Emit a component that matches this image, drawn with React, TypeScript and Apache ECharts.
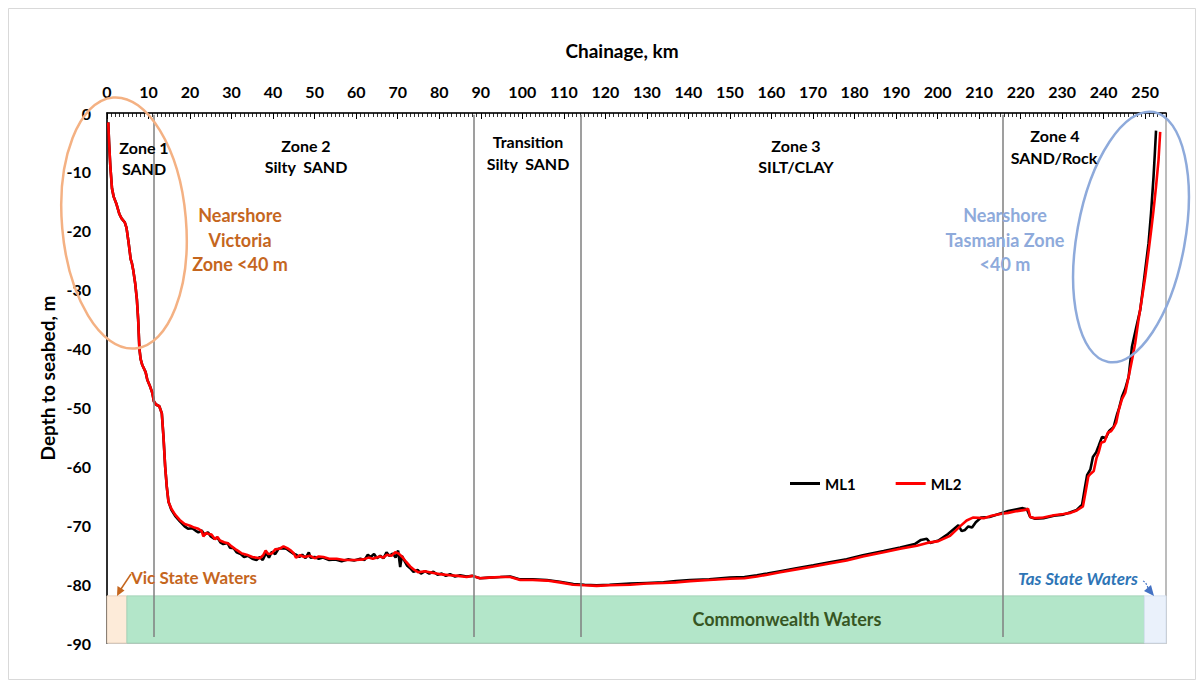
import React, { useEffect, useRef } from "react";
import * as echarts from "echarts";

// Chainage (km) vs depth to seabed (m)
const ML1: [number, number][] = [
  [0.3,-1.6],[0.5,-5],[0.8,-9],[1.2,-12.8],[1.6,-14.2],[2.3,-15.5],[3.0,-17.2],[3.5,-17.9],[4.3,-18.6],[4.7,-19.5],
  [5.2,-22],[5.7,-24.8],[6.0,-25.5],[6.3,-26.6],[6.8,-29],[7.2,-31.7],[7.5,-35],[7.8,-40],[8.1,-41.8],[8.5,-42.8],
  [9.3,-44],[9.7,-45.3],[10.3,-46.3],[10.9,-47.5],[11.3,-49],[11.8,-49.5],[12.6,-49.8],[13.2,-51],[13.6,-55],[14.0,-60],
  [14.4,-63.5],[14.8,-66],[15.5,-67.4],[16.4,-68.4],[17.5,-69.3],[18.7,-70.2],[19.5,-70.6],[20.5,-70.5],[21.3,-70.9],[22.0,-71.2],
  [22.8,-70.9],[23.5,-71.6],[24.3,-71.2],[25.0,-71.9],[25.8,-72.3],[26.6,-72.1],[27.3,-72.9],[28.0,-73.2],[29.0,-73.0],[29.6,-73.8],
  [30.5,-73.9],[31.2,-74.6],[32.2,-74.9],[33.0,-75.4],[34.0,-75.2],[35.0,-75.7],[36.0,-75.9],[36.8,-75.4],[37.5,-75.9],[38.3,-74.7],
  [39.0,-75.5],[39.7,-74.5],[40.5,-74.9],[41.3,-74.0],[42.3,-73.9],[43.2,-74.0],[44.0,-74.4],[44.8,-74.8],[45.5,-75.0],[46.3,-75.4],
  [47.0,-75.0],[47.8,-75.6],[48.6,-74.6],[49.0,-75.5],[50.0,-75.4],[51.0,-75.7],[52.0,-75.5],[53.5,-75.9],[55.0,-75.8],[56.5,-76.1],
  [58.0,-75.8],[59.5,-76.0],[61.0,-75.7],[62.0,-75.9],[62.8,-75.0],[63.5,-75.4],[64.3,-74.9],[65.0,-75.6],[65.8,-75.2],[66.6,-75.6],
  [67.3,-74.6],[68.0,-75.2],[68.8,-74.8],[69.5,-75.5],[70.1,-74.3],[70.6,-77.1],[71.0,-75.2],[71.6,-76.0],[72.3,-76.9],[73.0,-77.3],
  [73.8,-77.9],[74.8,-77.6],[75.6,-78.2],[76.6,-77.8],[77.6,-78.2],[78.6,-77.9],[79.6,-78.4],[80.6,-78.2],[81.6,-78.6],[82.6,-78.3],
  [83.8,-78.7],[85.0,-78.5],[86.6,-78.7],[88.0,-78.6],[89.8,-79.0],[92.0,-78.9],[94.7,-78.8],[97.1,-78.7],[99.5,-79.2],[102.5,-79.2],
  [105.9,-79.3],[109.0,-79.6],[112.3,-80.0],[115.0,-80.1],[117.9,-80.2],[121.0,-80.1],[126.0,-79.9],[130.0,-79.8],[134.0,-79.7],[137.0,-79.5],
  [140.4,-79.3],[145.0,-79.2],[150.0,-78.9],[153.5,-78.8],[156.5,-78.5],[159.0,-78.2],[162.1,-77.8],[166.0,-77.3],[170.1,-76.8],[174.0,-76.3],
  [178.1,-75.8],[182.0,-75.1],[187.0,-74.4],[191.0,-73.8],[194.5,-73.2],[196.0,-72.5],[197.4,-72.3],[198.2,-73.0],[200.2,-72.6],[202.5,-71.5],
  [204.0,-70.6],[205.0,-70.0],[205.8,-71.0],[206.6,-70.8],[207.4,-70.2],[208.3,-70.4],[209.2,-69.5],[210.5,-68.7],[212.5,-68.6],[215.1,-68.0],
  [217.0,-67.6],[219.1,-67.3],[220.5,-67.1],[221.5,-67.3],[222.3,-68.6],[223.5,-68.9],[225.5,-68.8],[228.0,-68.4],[230.3,-68.2],[232.0,-67.8],
  [233.5,-67.4],[234.8,-66.5],[235.5,-63.5],[236.0,-61.5],[236.8,-60.5],[237.4,-58.4],[238.2,-57.6],[238.8,-56.5],[239.6,-55.0],[240.5,-55.2],
  [241.3,-54.0],[242.4,-53.3],[243.2,-51.2],[243.6,-50.4],[244.4,-48.2],[245.2,-46.8],[246.0,-44.8],[246.8,-39.7],[247.8,-36.5],[248.8,-33.4],
  [249.6,-29.0],[250.2,-25.5],[250.8,-22.1],[251.4,-17.0],[252.0,-10.8],[252.3,-7.0],[252.6,-3.0]
];

const ML2: [number, number][] = [
  [0.3,-1.6],[0.5,-5],[0.8,-9],[1.2,-12.8],[1.6,-14.2],[2.3,-15.5],[3.0,-17.2],[3.5,-17.9],[4.3,-18.6],[4.7,-19.5],
  [5.2,-22],[5.7,-24.8],[6.0,-25.5],[6.3,-26.6],[6.8,-29],[7.2,-31.7],[7.5,-35],[7.8,-40],[8.1,-41.8],[8.5,-42.8],
  [9.3,-44],[9.7,-45.3],[10.3,-46.3],[10.9,-47.5],[11.3,-49],[11.8,-49.5],[12.6,-49.8],[13.2,-51],[13.6,-55],[14.0,-60],
  [14.4,-63.5],[14.8,-66],[15.5,-67.2],[16.4,-68.2],[17.5,-69.1],[18.7,-69.8],[20.0,-70.1],[21.0,-70.4],[22.0,-70.6],[22.8,-71.0],
  [23.2,-71.9],[23.8,-71.3],[24.5,-71.5],[25.2,-71.6],[26.0,-72.4],[26.6,-72.0],[27.2,-72.6],[28.2,-72.9],[29.2,-73.1],[30.0,-73.6],
  [31.2,-74.2],[32.5,-74.8],[33.6,-75.0],[35.0,-75.4],[36.8,-75.6],[37.6,-75.1],[38.2,-74.3],[38.8,-74.9],[39.7,-74.8],[40.5,-74.1],
  [41.5,-74.0],[42.5,-73.6],[43.4,-73.9],[44.3,-74.3],[45.0,-74.8],[45.5,-75.5],[46.5,-75.1],[47.5,-75.4],[48.9,-75.2],[50.0,-75.6],
  [51.0,-75.3],[52.1,-75.4],[53.5,-75.7],[55.3,-75.7],[57.0,-75.9],[58.5,-75.9],[60.0,-75.9],[61.7,-75.8],[63.0,-75.5],[64.0,-75.7],
  [65.7,-75.3],[66.5,-75.5],[67.4,-75.0],[68.5,-75.2],[69.4,-74.6],[70.2,-74.8],[71.0,-75.3],[72.0,-76.2],[73.0,-77.0],[74.0,-77.6],
  [75.0,-78.0],[76.5,-77.8],[78.6,-78.1],[80.0,-78.3],[82.6,-78.5],[84.5,-78.6],[86.6,-78.8],[88.0,-78.6],[89.8,-79.0],[92.0,-78.9],
  [94.7,-78.8],[97.1,-78.8],[99.5,-79.3],[102.5,-79.3],[105.9,-79.4],[109.0,-79.7],[112.3,-80.1],[115.0,-80.2],[117.9,-80.3],[121.0,-80.2],
  [126.0,-80.1],[130.0,-79.9],[134.0,-79.8],[137.0,-79.7],[140.4,-79.5],[145.0,-79.3],[150.0,-79.1],[153.5,-79.0],[156.5,-78.7],[159.0,-78.4],
  [162.1,-78.0],[166.0,-77.5],[170.1,-77.0],[174.0,-76.5],[178.1,-76.0],[182.0,-75.3],[187.0,-74.6],[191.0,-74.0],[195.0,-73.5],[197.5,-73.0],
  [200.2,-72.7],[203.0,-71.8],[205.4,-70.2],[207.0,-69.2],[208.5,-68.7],[211.1,-68.8],[213.0,-68.4],[215.1,-68.1],[217.0,-67.9],[219.1,-67.6],
  [221.1,-67.4],[221.8,-67.2],[222.3,-68.6],[223.5,-68.8],[225.5,-68.7],[228.0,-68.3],[230.3,-68.1],[232.0,-67.9],[233.5,-67.5],[235.0,-66.8],
  [235.6,-64.5],[236.3,-61.7],[236.8,-61.3],[237.6,-60.8],[238.3,-58.5],[238.8,-57.6],[239.4,-56.0],[240.2,-55.8],[241.0,-54.3],[241.8,-54.0],
  [242.4,-53.4],[243.0,-52.6],[243.6,-50.5],[244.4,-48.6],[245.2,-47.5],[246.0,-44.8],[246.8,-42.0],[247.6,-39.0],[248.3,-35.5],[249.2,-31.5],
  [250.0,-27.8],[250.8,-23.5],[251.5,-19.5],[252.0,-16.5],[252.6,-12.5],[253.2,-8.0],[253.6,-3.2]
];

// Zone boundary chainages (km)
const zoneBoundaries = [11.3, 88.3, 114.1, 215.6];
// Waters bands (km)
const vicStateWaters = [0, 4.8];
const commonwealthWaters = [4.8, 249.8];
const tasStateWaters = [249.8, 255];
const watersTop = -82;

const xTicks = { min: 0, max: 255, interval: 10 };
const yTicks = { min: -90, max: 0, interval: 10 };

const FONT = "Lato, 'Open Sans', sans-serif";

function txt(x: number, y: number, text: string, fill: string, size: number, extra: any = {}) {
  return {
    type: "text",
    x,
    y,
    silent: true,
    z: 100,
    style: {
      text,
      fill,
      font: `${extra.italic ? "italic " : ""}bold ${size}px ${FONT}`,
      align: "center",
      verticalAlign: "middle",
      textAlign: "center",
      textVerticalAlign: "middle",
    },
  };
}

export default function App() {
  const ref = useRef<HTMLDivElement>(null);
  useEffect(() => {
    if (!ref.current) return;
    const chart = echarts.init(ref.current, null, { renderer: "svg" });
    const orange = "#C5661E";
    const lightBlue = "#8EAADB";
    const option: any = {
      animation: false,
      backgroundColor: "#ffffff",
      grid: {
        left: 107,
        right: 37,
        top: 113,
        bottom: 44,
        show: true,
        borderColor: "#a6a6a6",
        borderWidth: 1.5,
        backgroundColor: "transparent",
      },
      legend: {
        left: 785,
        top: 471,
        icon: "rect",
        itemWidth: 30,
        itemHeight: 3,
        itemGap: 40,
        selectedMode: false,
        textStyle: { fontFamily: FONT, fontWeight: "bold", fontSize: 15, color: "#000" },
        data: ["ML1", "ML2"],
      },
      xAxis: {
        type: "value",
        position: "top",
        min: xTicks.min,
        max: xTicks.max,
        interval: xTicks.interval,
        axisLine: { show: true, lineStyle: { color: "#000", width: 1.5 } },
        axisTick: { show: true, inside: true, length: 6, lineStyle: { color: "#000", width: 1 } },
        minorTick: { show: true, splitNumber: 10, length: 4, lineStyle: { color: "#000", width: 0.8 } },
        splitLine: { show: false },
        minorSplitLine: { show: false },
        axisLabel: {
          show: true,
          margin: 14,
          showMaxLabel: false,
          fontFamily: FONT,
          fontWeight: "bold",
          fontSize: 16,
          color: "#000",
        },
      },
      yAxis: {
        type: "value",
        min: yTicks.min,
        max: yTicks.max,
        interval: yTicks.interval,
        axisLine: { show: true, lineStyle: { color: "#000", width: 1.5 } },
        axisTick: { show: false },
        splitLine: { show: false },
        axisLabel: {
          margin: 16,
          fontFamily: FONT,
          fontWeight: "bold",
          fontSize: 16,
          color: "#000",
        },
      },
      series: [
        {
          name: "ML1",
          type: "line",
          data: ML1,
          symbol: "none",
          lineStyle: { color: "#000000", width: 2.6 },
          itemStyle: { color: "#000000" },
          z: 3,
          markArea: {
            silent: true,
            data: [
              [
                { xAxis: vicStateWaters[0], yAxis: yTicks.min, itemStyle: { color: "#FDEBD9", borderColor: "#e8d2bd", borderWidth: 1 } },
                { xAxis: vicStateWaters[1], yAxis: watersTop },
              ],
              [
                { xAxis: commonwealthWaters[0], yAxis: yTicks.min, itemStyle: { color: "#B3E6C9", borderColor: "#a4d4b8", borderWidth: 1 } },
                { xAxis: commonwealthWaters[1], yAxis: watersTop },
              ],
              [
                { xAxis: tasStateWaters[0], yAxis: yTicks.min, itemStyle: { color: "#EAF1FB", borderColor: "#d6e1f0", borderWidth: 1 } },
                { xAxis: tasStateWaters[1], yAxis: watersTop },
              ],
            ],
          },
          markLine: {
            silent: true,
            symbol: "none",
            label: { show: false },
            lineStyle: { color: "#7f7f7f", width: 1.5, type: "solid" },
            data: zoneBoundaries.map((k) => [
              { coord: [k, -0.3] },
              { coord: [k, -89] },
            ]),
          },
        },
        {
          name: "ML2",
          type: "line",
          data: ML2,
          symbol: "none",
          lineStyle: { color: "#FF0000", width: 2.6 },
          itemStyle: { color: "#FF0000" },
          z: 4,
        },
      ],
      graphic: [
        {
          type: "rect",
          shape: { x: 8.5, y: 8.5, width: 1187, height: 671 },
          style: { fill: "none", stroke: "#d9d9d9", lineWidth: 1 },
          silent: true,
          z: -1,
        },
        txt(622, 50, "Chainage, km", "#000", 19),
        {
          type: "text",
          x: 47,
          y: 378,
          rotation: Math.PI / 2,
          silent: true,
          style: {
            text: "Depth to seabed, m",
            fill: "#000",
            font: `bold 19px ${FONT}`,
            align: "center",
            verticalAlign: "middle",
            textAlign: "center",
            textVerticalAlign: "middle",
          },
        },
        txt(144, 147, "Zone 1", "#000", 16),
        txt(144, 168, "SAND", "#000", 16),
        txt(306, 145, "Zone 2", "#000", 16),
        txt(306, 166, "Silty  SAND", "#000", 16),
        txt(528, 141, "Transition", "#000", 16),
        txt(528, 163, "Silty  SAND", "#000", 16),
        txt(796, 145, "Zone 3", "#000", 16),
        txt(796, 166, "SILT/CLAY", "#000", 16),
        txt(1055, 135, "Zone 4", "#000", 16),
        txt(1054, 157, "SAND/Rock", "#000", 16),
        txt(240, 215, "Nearshore", orange, 18),
        txt(240, 240, "Victoria", orange, 18),
        txt(240, 264, "Zone <40 m", orange, 18),
        txt(1005, 215, "Nearshore", lightBlue, 18),
        txt(1005, 240, "Tasmania Zone", lightBlue, 18),
        txt(1005, 264, "<40 m", lightBlue, 18),
        txt(194, 577, "Vic State Waters", "#C5661E", 17),
        txt(1078, 578, "Tas State Waters", "#2E75B6", 17, { italic: true }),
        txt(787, 619, "Commonwealth Waters", "#375623", 18),
        {
          type: "ellipse",
          x: 124,
          y: 223,
          rotation: 0.087,
          shape: { cx: 0, cy: 0, rx: 62, ry: 126 },
          style: { fill: "none", stroke: "#F4B183", lineWidth: 2.5 },
          silent: true,
          z: 50,
        },
        {
          type: "ellipse",
          x: 1131,
          y: 237,
          rotation: -0.18,
          shape: { cx: 0, cy: 0, rx: 54, ry: 127 },
          style: { fill: "none", stroke: "#8EAADB", lineWidth: 2.5 },
          silent: true,
          z: 50,
        },
        {
          type: "line",
          shape: { x1: 131, y1: 574, x2: 121, y2: 589 },
          style: { stroke: "#C5661E", lineWidth: 1.5 },
          silent: true,
          z: 60,
        },
        {
          type: "polygon",
          shape: { points: [[117, 596], [117.5, 586], [124.5, 590.5]] },
          style: { fill: "#C5661E" },
          silent: true,
          z: 60,
        },
        {
          type: "bezierCurve",
          shape: { x1: 1143, y1: 581, x2: 1148, y2: 588, cpx1: 1146, cpy1: 582 },
          style: { stroke: "#4472C4", lineWidth: 1.2, fill: "none", lineDash: [2, 1.5] },
          silent: true,
          z: 60,
        },
        {
          type: "polygon",
          shape: { points: [[1154, 596], [1144, 591], [1151, 585]] },
          style: { fill: "#4472C4" },
          silent: true,
          z: 60,
        },
      ],
    };
    chart.setOption(option);
    return () => chart.dispose();
  }, []);
  return (
    <div
      ref={ref}
      style={{ position: "fixed", left: 0, top: 0, width: 1203, height: 687, background: "#fff" }}
    />
  );
}
